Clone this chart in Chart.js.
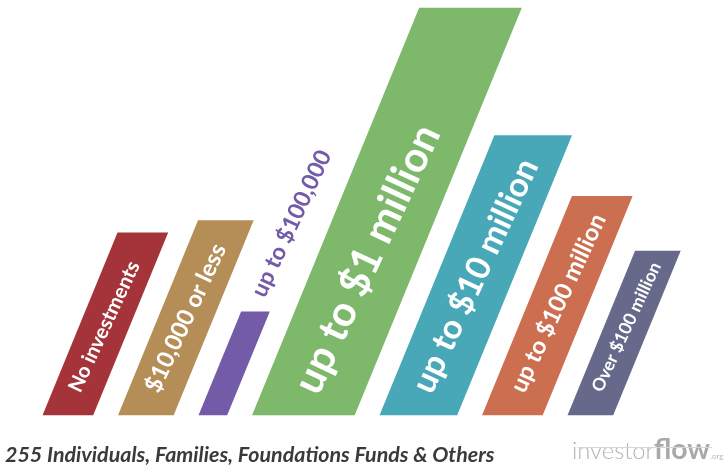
<!DOCTYPE html>
<html>
<head>
<meta charset="utf-8">
<script src="https://cdn.jsdelivr.net/npm/chart.js@4.4.1/dist/chart.umd.min.js"></script>
<style>
  html, body { margin: 0; padding: 0; background: #ffffff; }
  canvas { display: block; }
</style>
</head>
<body>
<canvas id="chart" width="725" height="467"></canvas>
<script>
// Investment size brackets and number of respondents in each
const categories = [
  'No investments',
  '$10,000 or less',
  'up to $100,000',
  'up to $1 million',
  'up to $10 million',
  'up to $100 million',
  'Over $100 million'
];
const respondents = [30, 32, 17, 67, 46, 36, 27];
const footnote = '255 Individuals, Families, Foundations Funds & Others';

// Styling
const barColors = ['#A43439', '#B58E57', '#735BA7', '#7DB86B', '#48A8B8', '#CC6F50', '#67698B'];
const barWidths = [50, 55, 28, 102, 77, 60, 45];      // px, bottom edge width of each bar
const labelSpans = [142, 161, 159, 291, 254, 194, 141]; // px, length of each rotated label
const labelOutside = [false, false, true, false, false, false, false];
const SLANT = 0.41;         // horizontal shift per pixel of height
const TEXT_ANGLE = -65 * Math.PI / 180;
const LEFT_EDGE = 43;
const GAP = 25.5;
const LABEL_FONT = 'Lato, "Open Sans", sans-serif';

// bar centres along the x axis, laid out edge to edge with a fixed gap
const centers = [];
let cursor = LEFT_EDGE;
barWidths.forEach(w => { centers.push(cursor + w / 2); cursor += w + GAP; });

const datasets = categories.map((name, i) => ({
  label: name,
  data: [{ x: centers[i], y: respondents[i] }],
  backgroundColor: barColors[i],
  borderWidth: 0,
  barThickness: barWidths[i],
  grouped: false,
  clip: false
}));

function fitFont(ctx, text, span, weight, style) {
  ctx.font = `${style || ''} ${weight} 100px ${LABEL_FONT}`;
  const w = ctx.measureText(text).width;
  return 100 * span / w;
}

// slants every bar around the zero line
const shearBars = {
  id: 'shearBars',
  beforeDatasetsDraw(chart) {
    const ctx = chart.ctx;
    const base = chart.scales.y.getPixelForValue(0);
    ctx.save();
    ctx.transform(1, 0, -SLANT, 1, SLANT * base, 0);
  },
  afterDatasetsDraw(chart) {
    chart.ctx.restore();
  }
};

// rotated category names along each bar, footnote and wordmark
const barLabels = {
  id: 'barLabels',
  afterDraw(chart) {
    const ctx = chart.ctx;
    const base = chart.scales.y.getPixelForValue(0);
    const sinA = Math.sin(-TEXT_ANGLE);

    categories.forEach((text, i) => {
      const bar = chart.getDatasetMeta(i).data[0];
      const barH = base - bar.y;
      const startUp = labelOutside[i] ? barH + 16 : 24;
      const up = startUp + (labelSpans[i] / 2) * sinA;
      const cx = bar.x + SLANT * up;
      const cy = base - up;
      const size = fitFont(ctx, text, labelSpans[i], 'bold');
      ctx.save();
      ctx.translate(cx, cy);
      ctx.rotate(TEXT_ANGLE);
      ctx.font = `bold ${size}px ${LABEL_FONT}`;
      ctx.fillStyle = labelOutside[i] ? barColors[i] : '#ffffff';
      ctx.textAlign = 'center';
      ctx.textBaseline = 'middle';
      ctx.fillText(text, 0, 0);
      ctx.restore();
    });

    // footnote
    ctx.save();
    const fs = fitFont(ctx, footnote, 490, 'bold', 'italic');
    ctx.font = `italic bold ${fs}px ${LABEL_FONT}`;
    ctx.fillStyle = '#3a3a3a';
    ctx.textAlign = 'left';
    ctx.textBaseline = 'alphabetic';
    ctx.fillText(footnote, 5, 462);
    ctx.restore();

    // wordmark
    ctx.save();
    ctx.textBaseline = 'alphabetic';
    ctx.textAlign = 'left';
    const s1 = fitFont(ctx, 'investor', 82, '300');
    ctx.font = `300 ${s1}px ${LABEL_FONT}`;
    ctx.fillStyle = '#b4b4b4';
    ctx.fillText('investor', 572, 459);
    const s2 = fitFont(ctx, 'flow', 56, 'bold');
    ctx.font = `bold ${s2}px ${LABEL_FONT}`;
    ctx.fillStyle = '#a9a9a9';
    ctx.fillText('flow', 654, 459);
    ctx.font = `400 8px ${LABEL_FONT}`;
    ctx.fillStyle = '#b8b8b8';
    ctx.fillText('.org', 710, 459);
    ctx.strokeStyle = '#d6d6d6';
    ctx.lineWidth = 1;
    ctx.beginPath();
    ctx.moveTo(578, 447.5);
    ctx.lineTo(712, 447.5);
    ctx.stroke();
    ctx.restore();
  }
};

new Chart(document.getElementById('chart'), {
  type: 'bar',
  data: { datasets },
  options: {
    responsive: false,
    animation: false,
    devicePixelRatio: 1,
    layout: { padding: { top: 8, bottom: 52, left: 0, right: 0 } },
    plugins: { legend: { display: false }, tooltip: { enabled: false } },
    scales: {
      x: { type: 'linear', min: 0, max: 725, offset: false, display: false },
      y: { min: 0, max: 67, display: false }
    }
  },
  plugins: [shearBars, barLabels]
});
</script>
</body>
</html>
